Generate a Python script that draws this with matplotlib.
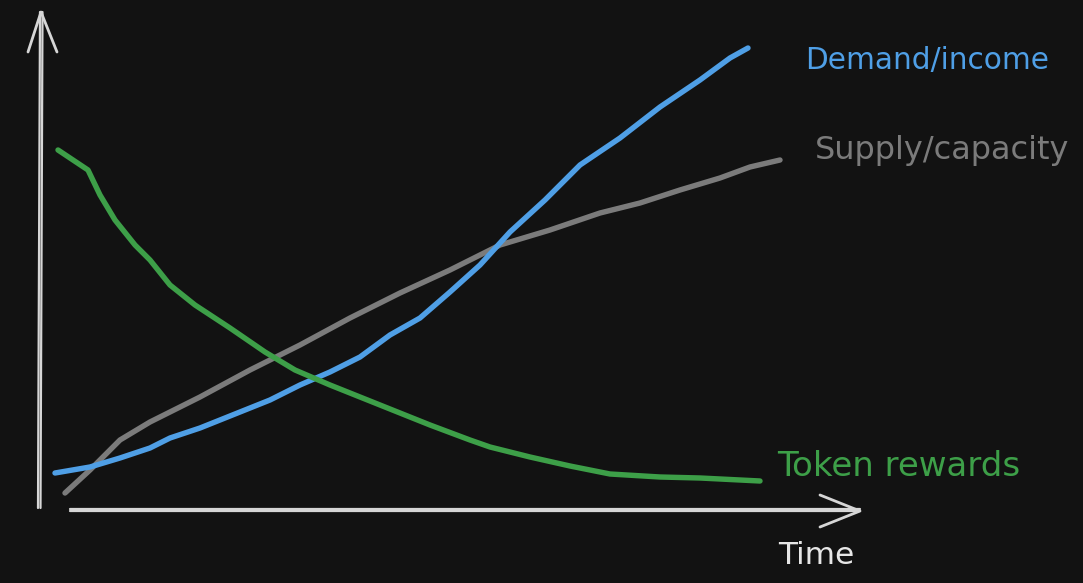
import numpy as np
import matplotlib.pyplot as plt

# values (time on x, level on y, arbitrary units)
green_t = [58, 88, 100, 115, 135, 150, 170, 195, 230, 265, 295, 330, 380, 430, 470, 490, 530, 570, 610, 660, 700, 760]
green_v = [433, 413, 388, 363, 338, 323, 298, 278, 255, 231, 213, 198, 178, 158, 143, 136, 126, 117, 109, 106, 105, 102]

blue_t = [55, 90, 120, 150, 170, 200, 240, 270, 300, 330, 360, 390, 420, 450, 480, 510, 545, 580, 620, 660, 700, 730, 748]
blue_v = [110, 116, 125, 135, 145, 155, 171, 183, 198, 211, 226, 248, 265, 291, 318, 351, 383, 418, 445, 476, 503, 525, 535]

gray_t = [65, 90, 120, 150, 200, 250, 300, 350, 400, 450, 500, 550, 600, 640, 680, 720, 750, 780]
gray_v = [90, 113, 143, 161, 186, 213, 238, 265, 290, 313, 338, 353, 370, 380, 393, 405, 416, 423]

labels = ["Demand/income", "Supply/capacity", "Token rewards", "Time"]

bg = "#121212"
axis_col = "#d6d6d6"
blue = "#4f9fe6"
gray = "#7b7b7b"
green = "#3d9f48"

fig = plt.figure(figsize=(10.83, 5.83), dpi=100, facecolor=bg)
ax = fig.add_axes([0, 0, 1, 1])
ax.set_facecolor(bg)
ax.set_xlim(0, 1083)
ax.set_ylim(0, 583)
ax.axis("off")

# hand drawn looking axes (double stroke)
for dx in (0, 2.5):
    ax.plot([38 + dx, 40 + dx], [75, 571], color=axis_col, lw=1.6, solid_capstyle="round")
ax.plot([28, 41, 57], [531, 571, 531], color=axis_col, lw=2, solid_capstyle="round")
for dy in (0, 2):
    ax.plot([70, 860], [72 + dy, 72 + dy], color=axis_col, lw=1.6, solid_capstyle="round")
ax.plot([820, 860, 820], [88, 72, 56], color=axis_col, lw=2, solid_capstyle="round")

ax.plot(gray_t, gray_v, color=gray, lw=3.9, solid_capstyle="round", solid_joinstyle="round")
ax.plot(blue_t, blue_v, color=blue, lw=3.9, solid_capstyle="round", solid_joinstyle="round")
ax.plot(green_t, green_v, color=green, lw=3.9, solid_capstyle="round", solid_joinstyle="round")

font = "DejaVu Sans"
ax.text(805, 523, labels[0], color=blue, fontsize=21.3, family=font, va="center", ha="left")
ax.text(815, 433, labels[1], color=gray, fontsize=23, family=font, va="center", ha="left")
ax.text(777, 116, labels[2], color=green, fontsize=24.5, family=font, va="center", ha="left")
ax.text(778, 28, labels[3], color="#e6e6e6", fontsize=22.5, family=font, va="center", ha="left")

fig.savefig("out.png", dpi=100, facecolor=bg)
